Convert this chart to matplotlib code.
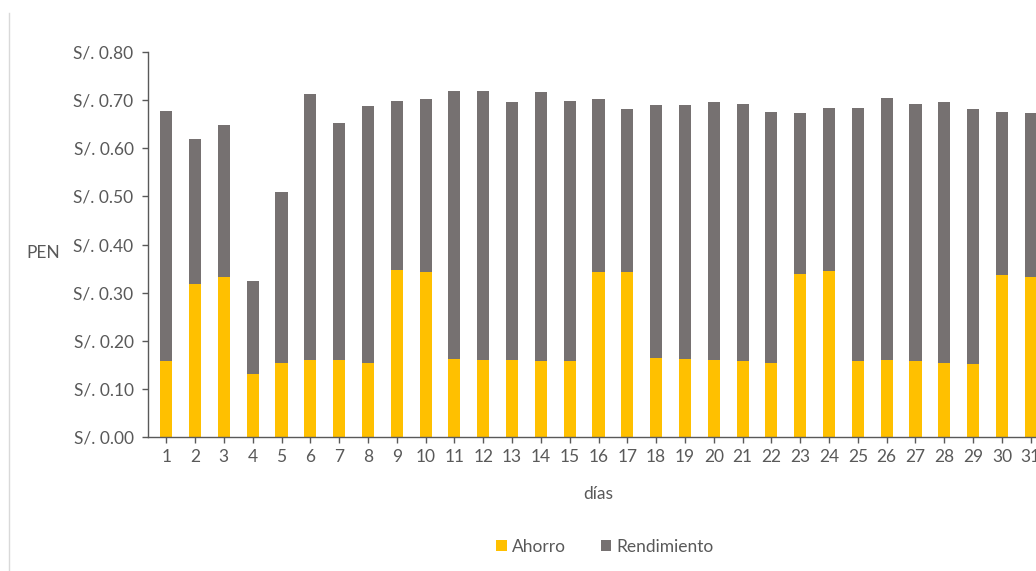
import matplotlib.pyplot as plt
from matplotlib.lines import Line2D

plt.rcParams['font.family'] = ['Lato', 'DejaVu Sans']

dias = list(range(1, 32))
ahorro = [0.157, 0.318, 0.333, 0.131, 0.153, 0.161, 0.159, 0.153, 0.346, 0.342,
          0.162, 0.160, 0.160, 0.157, 0.157, 0.342, 0.342, 0.165, 0.163, 0.160,
          0.157, 0.153, 0.338, 0.345, 0.157, 0.160, 0.157, 0.153, 0.152, 0.337,
          0.333]
total = [0.678, 0.620, 0.648, 0.324, 0.509, 0.712, 0.652, 0.687, 0.699, 0.703,
         0.720, 0.720, 0.696, 0.716, 0.699, 0.703, 0.681, 0.689, 0.689, 0.696,
         0.692, 0.676, 0.674, 0.684, 0.684, 0.705, 0.692, 0.696, 0.682, 0.676,
         0.674]
rendimiento = [round(t - a, 3) for t, a in zip(total, ahorro)]
yticks = [0.0, 0.1, 0.2, 0.3, 0.4, 0.5, 0.6, 0.7, 0.8]

fs = 12.5

fig = plt.figure(figsize=(10.36, 5.71), dpi=100)
# axes run past the right edge, as in the cropped original
ax = fig.add_axes([147.5 / 1036, 134 / 571, 902 / 1036, 385 / 571])

x = list(range(len(dias)))
ax.bar(x, ahorro, width=0.42, color='#FFC000', label='Ahorro')
ax.bar(x, rendimiento, width=0.42, bottom=ahorro, color='#767171', label='Rendimiento')

ax.set_xlim(-0.65, 30.65)
ax.set_ylim(0, 0.8)
ax.set_xticks(x)
ax.set_xticklabels([str(d) for d in dias])
ax.set_yticks(yticks)
ax.set_yticklabels(['S/. %.2f' % v for v in yticks])

for s in ['top', 'right']:
    ax.spines[s].set_visible(False)
for s in ['left', 'bottom']:
    ax.spines[s].set_color('#595959')
    ax.spines[s].set_linewidth(1.0)
ax.tick_params(axis='both', colors='#595959', labelcolor='#595959',
               labelsize=fs, length=4, width=1.0)
ax.tick_params(axis='y', pad=6)
ax.tick_params(axis='x', pad=5)

fig.text(43 / 1036, 1 - 253 / 571, 'PEN', ha='center', va='center',
         fontsize=fs, color='#595959')
fig.text(598 / 1036, 1 - 494 / 571, 'días', ha='center', va='center',
         fontsize=fs, color='#595959')

handles, labels = ax.get_legend_handles_labels()
fig.legend(handles, labels, loc='center', bbox_to_anchor=(605 / 1036, 1 - 547 / 571),
           ncol=2, frameon=False, fontsize=fs, labelcolor='#595959',
           handlelength=0.6, handleheight=0.6, handletextpad=0.3, columnspacing=2.0)

# thin frame line at the left of the original screenshot
fig.add_artist(Line2D([8.5 / 1036, 8.5 / 1036], [0, 1 - 13 / 571],
                      color='#d9d9d9', linewidth=1.0))

fig.savefig('out.png', dpi=100)
plt.close(fig)
